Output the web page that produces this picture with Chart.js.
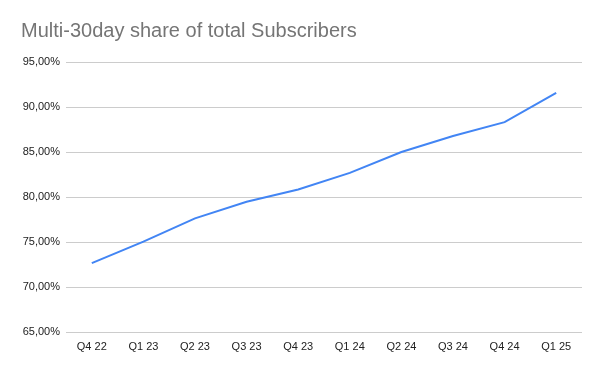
<!DOCTYPE html>
<html>
<head>
<meta charset="utf-8">
<script src="https://cdn.jsdelivr.net/npm/chart.js@4"></script>
<style>
  html, body { margin: 0; padding: 0; background: #fff; }
  canvas { display: block; }
</style>
</head>
<body>
<canvas id="chart" width="600" height="371"></canvas>
<script>
// Quarter labels along the x axis
const quarters = ["Q4 22", "Q1 23", "Q2 23", "Q3 23", "Q4 23", "Q1 24", "Q2 24", "Q3 24", "Q4 24", "Q1 25"];
// Multi-30day share of total subscribers, percent
const shareValues = [72.65, 75.04, 77.63, 79.47, 80.84, 82.68, 85.0, 86.77, 88.32, 91.57];
// Value axis range
const yMin = 65;
const yMax = 95;
const yStep = 5;

const LABEL_FONT = '"Liberation Sans", Arial, sans-serif';

// comma decimal, two places: 95,00%
function tickPct(v) {
  return v.toFixed(2).replace(".", ",") + "%";
}

new Chart(document.getElementById("chart"), {
  type: "line",
  data: {
    labels: quarters,
    datasets: [{
      label: "Multi-30day share",
      data: shareValues,
      borderColor: "#4285F4",
      borderWidth: 2,
      pointRadius: 0,
      tension: 0,
      fill: false,
    }],
  },
  options: {
    responsive: false,
    animation: false,
    layout: { padding: { left: 21, right: 18, top: 0, bottom: 0 } },
    plugins: {
      legend: { display: false },
      tooltip: { enabled: false },
      title: {
        display: true,
        text: "Multi-30day share of total Subscribers",
        align: "start",
        color: "#757575",
        font: { family: LABEL_FONT, size: 20, weight: "normal" },
        padding: { top: 19, bottom: 19 },
      },
    },
    scales: {
      x: {
        offset: true,
        grid: { display: false, drawTicks: false },
        border: { display: false },
        ticks: {
          color: "#222",
          font: { family: LABEL_FONT, size: 11 },
          padding: 8,
          maxRotation: 0,
          autoSkip: false,
        },
        afterFit(scale) { scale.height = 39; },
      },
      y: {
        min: yMin,
        max: yMax,
        grid: { color: "#cccccc", drawTicks: false, lineWidth: 1 },
        border: { display: false },
        ticks: {
          stepSize: yStep,
          color: "#222",
          font: { family: LABEL_FONT, size: 11 },
          padding: 6,
          callback: tickPct,
        },
        afterFit(scale) { scale.width = 45; },
      },
    },
  },
});
</script>
</body>
</html>
